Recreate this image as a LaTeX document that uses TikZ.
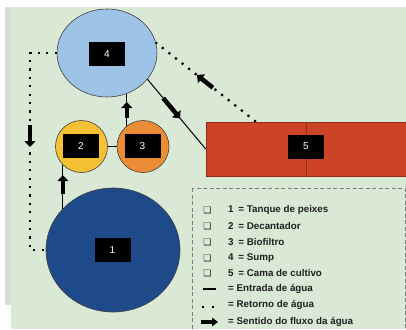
\documentclass[tikz,border=0pt]{standalone}
\usepackage{fontspec}
\setmainfont{Liberation Sans}
\newfontfamily\symfont{DejaVu Sans}
\usetikzlibrary{arrows.meta,calc,shapes.geometric}
\definecolor{bggreen}{HTML}{DAE9D5}
\definecolor{stripgray}{HTML}{D9D9D9}
\definecolor{sumpblue}{HTML}{9DC3E6}
\definecolor{decyellow}{HTML}{F4C234}
\definecolor{bioorange}{HTML}{EC8C36}
\definecolor{fishblue}{HTML}{1F4A8A}
\definecolor{bedred}{HTML}{CD4327}
\definecolor{beddark}{HTML}{8E2E1A}
\definecolor{legendgray}{HTML}{7F7F7F}
\begin{document}
\begin{tikzpicture}[x=1pt,y=-1pt,
  tank/.style={draw=black!75, line width=0.6pt, inner sep=0pt},
  lbl/.style={fill=black, text=white, minimum width=36pt, minimum height=24pt, inner sep=0pt, font=\fontsize{10}{11}\selectfont},
  inflow/.style={line width=1pt, draw=black},
  ret/.style={line width=2.2pt, dash pattern=on 2.2pt off 6.2pt, draw=black},
  flow/.style={line width=4.5pt, -{Triangle[length=6pt,width=11pt]}},
  legflow/.style={line width=3.5pt, -{Triangle[length=6pt,width=8.5pt]}},
  legtxt/.style={anchor=west, inner sep=0pt, font=\bfseries\fontsize{9.8}{11}\selectfont, text=black!88},
  legbox/.style={draw=legendgray, line width=0.7pt, dash pattern=on 4pt off 2.5pt},
  chk/.style={inner sep=0pt, font=\symfont\fontsize{9}{10}\selectfont, text=black!85}
]
\clip (0,0) rectangle (406,329);
\fill[white] (0,0) rectangle (406,329);
\fill[stripgray] (5,7) rectangle (11,305);
\fill[bggreen] (11,7) rectangle (406,329);

% tanks
\node[tank, ellipse, fill=sumpblue, minimum width=100pt, minimum height=88pt] (n4) at (107,53) {};
\node[tank, circle, fill=decyellow, minimum size=52pt] (n2) at (81.5,146.5) {};
\node[tank, circle, fill=bioorange, minimum size=52pt] (n3) at (143,146.5) {};
\node[tank, ellipse, fill=fishblue, minimum width=134pt, minimum height=124pt] (n1) at (113,250) {};
\node[draw=beddark, line width=0.6pt, fill=bedred, minimum width=200pt, minimum height=54pt, inner sep=0pt] (n5) at (306,149) {};
\draw[beddark, line width=0.8pt] (n5.north) -- (n5.south);

% labels
\node[lbl] (l4) at (107,54) {4};
\node[lbl] (l2) at (81,146) {2};
\node[lbl] (l3) at (142.5,146) {3};
\node[lbl] (l1) at (112.5,250) {1};
\node[lbl] (l5) at (306,146.5) {5};

% inflow connectors
\draw[inflow] (n2.east) -- (n3.west);
\draw[inflow] (n2.225 |- n1.141) -- coordinate[pos=.35] (a1s) coordinate[pos=.77] (a1e) (n2.225);
\draw[inflow] (n3.128) -- coordinate[pos=.25] (a2s) coordinate[pos=.74] (a2e) (n3.128 |- n4.296);
\draw[inflow] (n4.327) -- coordinate[pos=.27] (a3s) coordinate[pos=.56] (a3e) (n5.west);

% return connectors
\coordinate (rtop) at ($(n5.north west)!0.5!(n5.north)$);
\draw[ret] (rtop) -- coordinate[pos=.43] (a4s) coordinate[pos=.59] (a4e) (n4.12);
\coordinate (lft) at (30,140);
\draw[ret] (n4.west) -| (lft) |- (n1.west);

% flow arrows
\draw[flow] (a1s) -- (a1e);
\draw[flow] (a2s) -- (a2e);
\draw[flow] (a3s) -- (a3e);
\draw[flow] (a4s) -- (a4e);
\draw[flow] ($(lft)+(0,-15)$) -- ($(lft)+(0,7)$);

% legend
\draw[legbox] (192,188) rectangle (405,340);
\foreach \yy/\txt in {210/{1\hspace{2pt} = Tanque de peixes},226/{2\hspace{2pt} = Decantador},242/{3\hspace{2pt} = Biofiltro},258/{4\hspace{2pt} = Sump},273/{5\hspace{2pt} = Cama de cultivo}}{
  \node[chk] at (207.5,\yy) {❑};
  \node[legtxt] at (228,\yy) {\txt};
}
\draw[line width=1.3pt] (203,289) -- (216,289);
\node[legtxt] (e6) at (228,289) {= Entrada de água};
\fill (202,306) rectangle (204.2,308.2);
\fill (211.5,306) rectangle (213.7,308.2);
\node[legtxt] (e7) at (228,305) {= Retorno de água};
\draw[legflow] (201,322) -- (218,322);
\node[legtxt] (e8) at (228,322) {= Sentido do fluxo da água};
\end{tikzpicture}
\end{document}
